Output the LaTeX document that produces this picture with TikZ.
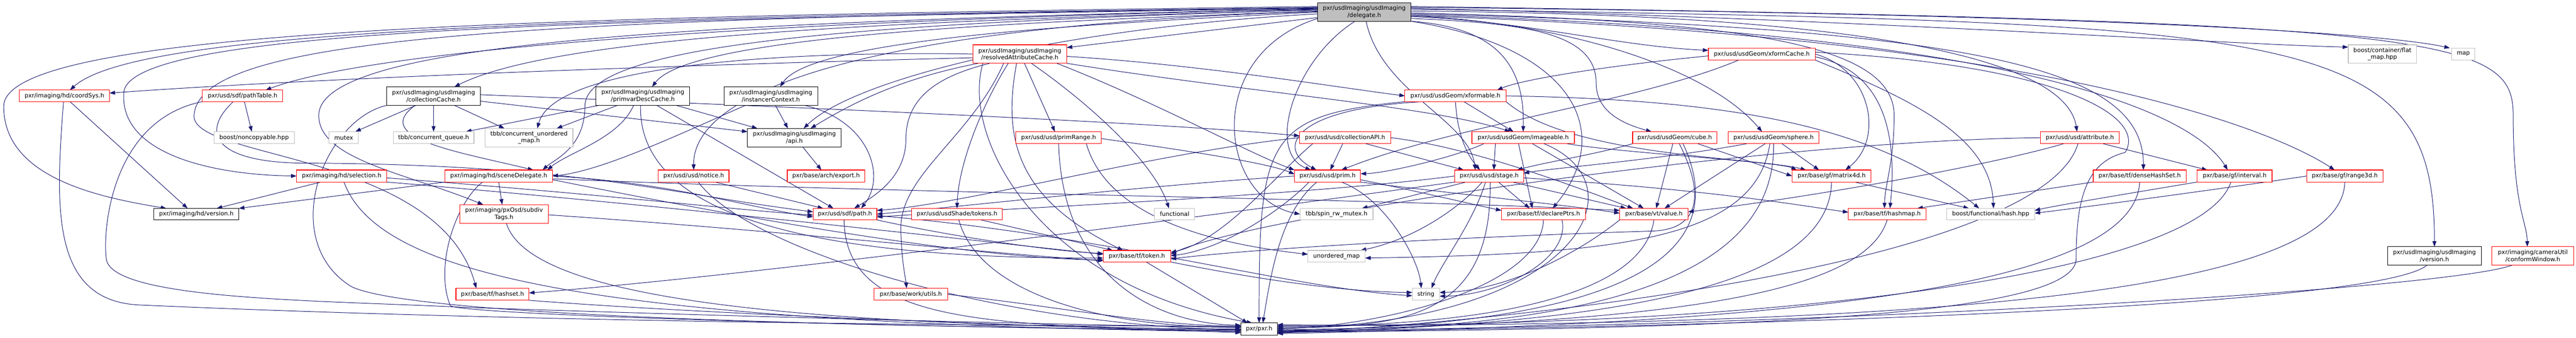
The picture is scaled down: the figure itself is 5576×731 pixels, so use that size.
\documentclass[tikz,border=0pt]{standalone}
\usepackage{fontspec}
\newfontfamily\djv{DejaVu Sans}
\usetikzlibrary{arrows.meta,backgrounds}
\definecolor{edgeblue}{HTML}{191970}
\definecolor{boxgrey}{HTML}{BFBFBF}
\definecolor{boxred}{HTML}{FF0000}
\tikzset{
 bxbase/.style={draw, rectangle, inner sep=0pt, outer sep=0pt, fill=white, line width=1.3pt, align=center, font=\djv\fontsize{12.8}{15}\selectfont},
 rbox/.style={bxbase, draw=boxred},
 kbox/.style={bxbase, draw=black},
 gbox/.style={bxbase, draw=boxgrey},
 dbox/.style={bxbase, draw=black, fill=boxgrey},
 ln/.style={draw=edgeblue, line width=1.1pt, -{Triangle[length=12pt,width=8.5pt]}},
}
\newcommand\bx[7]{\node[#1,minimum width={(#4-#3)*1pt},minimum height={(#6-#5)*1pt}] (#2) at ({(#3+#4)/2},{(#5+#6)/2}) {#7};}
\begin{document}
\begin{tikzpicture}[x=1pt,y=-1pt]
\useasboundingbox (0,0) rectangle (5576,731);
% ---- nodes ----
\bx{dbox}{dl}{2852}{3054}{6}{46}{pxr/usdImaging/usdImaging\\/delegate.h}
\bx{rbox}{rac}{2106}{2309}{97}{137}{pxr/usdImaging/usdImaging\\/resolvedAttributeCache.h}
\bx{rbox}{xfc}{3698}{3929}{104}{130}{pxr/usd/usdGeom/xformCache.h}
\bx{gbox}{fmap}{5083}{5231}{97}{137}{boost/container/flat\\\_map.hpp}
\bx{gbox}{smap}{5307}{5357}{104}{130}{map}
\bx{rbox}{csys}{42}{237}{195}{220}{pxr/imaging/hd/coordSys.h}
\bx{rbox}{ptab}{438}{612}{195}{220}{pxr/usd/sdf/pathTable.h}
\bx{kbox}{ccache}{837}{1040}{188}{228}{pxr/usdImaging/usdImaging\\/collectionCache.h}
\bx{kbox}{pdc}{1290}{1493}{188}{228}{pxr/usdImaging/usdImaging\\/primvarDescCache.h}
\bx{kbox}{ictx}{1567}{1770}{188}{228}{pxr/usdImaging/usdImaging\\/instancerContext.h}
\bx{rbox}{xfm}{3041}{3260}{195}{220}{pxr/usd/usdGeom/xformable.h}
\bx{gbox}{ncp}{463}{637}{285}{311}{boost/noncopyable.hpp}
\bx{gbox}{mutex}{712}{776}{285}{311}{mutex}
\bx{gbox}{cq}{851}{1026}{285}{311}{tbb/concurrent\_queue.h}
\bx{gbox}{cum}{1050}{1240}{278}{318}{tbb/concurrent\_unordered\\\_map.h}
\bx{kbox}{api}{1618}{1821}{278}{318}{pxr/usdImaging/usdImaging\\/api.h}
\bx{rbox}{prange}{2199}{2384}{285}{311}{pxr/usd/usd/primRange.h}
\bx{rbox}{capi}{2813}{3010}{285}{311}{pxr/usd/usd/collectionAPI.h}
\bx{rbox}{img}{3186}{3408}{285}{311}{pxr/usd/usdGeom/imageable.h}
\bx{rbox}{cube}{3534}{3716}{285}{311}{pxr/usd/usdGeom/cube.h}
\bx{rbox}{sphere}{3741}{3937}{285}{311}{pxr/usd/usdGeom/sphere.h}
\bx{rbox}{attr}{4417}{4587}{285}{311}{pxr/usd/usd/attribute.h}
\bx{rbox}{sel}{642}{837}{368}{394}{pxr/imaging/hd/selection.h}
\bx{rbox}{sdel}{963}{1196}{368}{394}{pxr/imaging/hd/sceneDelegate.h}
\bx{rbox}{notice}{1425}{1578}{368}{394}{pxr/usd/usd/notice.h}
\bx{rbox}{export}{1704}{1872}{368}{394}{pxr/base/arch/export.h}
\bx{rbox}{prim}{2802}{2945}{368}{394}{pxr/usd/usd/prim.h}
\bx{rbox}{stage}{3149}{3298}{368}{394}{pxr/usd/usd/stage.h}
\bx{rbox}{m4d}{3879}{4050}{368}{394}{pxr/base/gf/matrix4d.h}
\bx{rbox}{dhs}{4531}{4732}{368}{394}{pxr/base/tf/denseHashSet.h}
\bx{rbox}{intv}{4756}{4918}{368}{394}{pxr/base/gf/interval.h}
\bx{rbox}{r3d}{4993}{5158}{368}{394}{pxr/base/gf/range3d.h}
\bx{kbox}{hdver}{333}{517}{451}{476}{pxr/imaging/hd/version.h}
\bx{rbox}{subdiv}{995}{1187}{443}{483}{pxr/imaging/pxOsd/subdiv\\Tags.h}
\bx{rbox}{spath}{1760}{1898}{451}{476}{pxr/usd/sdf/path.h}
\bx{rbox}{shtok}{1973}{2170}{451}{476}{pxr/usd/usdShade/tokens.h}
\bx{gbox}{func}{2499}{2586}{451}{476}{functional}
\bx{gbox}{spin}{2814}{2972}{451}{476}{tbb/spin\_rw\_mutex.h}
\bx{rbox}{dptr}{3250}{3432}{451}{476}{pxr/base/tf/declarePtrs.h}
\bx{rbox}{value}{3506}{3654}{451}{476}{pxr/base/vt/value.h}
\bx{rbox}{hmap}{4001}{4169}{451}{476}{pxr/base/tf/hashmap.h}
\bx{gbox}{bhash}{4214}{4404}{451}{476}{boost/functional/hash.hpp}
\bx{rbox}{token}{2388}{2534}{542}{567}{pxr/base/tf/token.h}
\bx{gbox}{umap}{2831}{2955}{542}{567}{unordered\_map}
\bx{kbox}{uiver}{5168}{5371}{534}{574}{pxr/usdImaging/usdImaging\\/version.h}
\bx{rbox}{cwin}{5394}{5571}{534}{574}{pxr/imaging/cameraUtil\\/conformWindow.h}
\bx{rbox}{hset}{987}{1145}{624}{650}{pxr/base/tf/hashset.h}
\bx{rbox}{wutils}{1892}{2051}{624}{650}{pxr/base/work/utils.h}
\bx{gbox}{sstr}{3057}{3116}{624}{650}{string}
\bx{kbox}{pxr}{2686}{2765}{699}{725}{pxr/pxr.h}
% ---- edges ----
\begin{scope}[on background layer]
\fill[white] (0,0) rectangle (5576,731);
% delegate, left fan
\draw[ln] ([yshift=10]dl.west) .. controls (1300,38) and (300,60) .. ([xshift=12]csys.north);
\draw[ln] ([yshift=12]dl.west) .. controls (1200,36) and (10,60) .. (8,230) .. controls (8,380) and (200,425) .. ([xshift=27]hdver.north west);
\draw[ln] ([yshift=6]dl.west) .. controls (1600,45) and (800,110) .. ([xshift=50]ptab.north);
\draw[ln] ([yshift=4]dl.west) .. controls (1900,45) and (1200,80) .. ([xshift=45]ccache.north);
\draw[ln] ([yshift=2]dl.west) .. controls (2300,45) and (1500,70) .. ([xshift=20]pdc.north);
\draw[ln] (dl.west) .. controls (2400,50) and (1760,80) .. ([xshift=20]ictx.north);
\draw[ln] ([yshift=-12]dl.west) -- ([yshift=14]rac.east);
\draw[ln] ([yshift=8]dl.west) .. controls (1300,42) and (280,60) .. (268,200) .. controls (258,330) and (450,378) .. (sel.west);
\draw[ln] ([yshift=5]dl.west) .. controls (1900,50) and (1266,90) .. (1266,230) .. controls (1266,320) and (1200,345) .. ([xshift=95]sdel.north);
\draw[ln] ([yshift=9]dl.west) .. controls (1100,40) and (430,80) .. (420,250) .. controls (415,345) and (950,330) .. ([xshift=-35]hset.north);
\draw[ln] ([yshift=7]dl.west) .. controls (1500,48) and (690,90) .. (690,250) .. controls (690,345) and (880,375) .. ([xshift=-45]subdiv.north);
\draw[ln] ([yshift=1]dl.west) .. controls (2000,50) and (1500,170) .. (notice.north);
\draw[ln] ([yshift=-4]dl.west) .. controls (2300,60) and (1850,170) .. ([xshift=20]api.north);
\draw[ln] ([yshift=-14]dl.west) .. controls (2600,120) and (2640,430) .. (spin.west);
% delegate, bottom
\draw[ln] ([xshift=-20]dl.south) .. controls (2800,130) and (2740,330) .. ([xshift=-36]prim.north);
\draw[ln] ([xshift=4]dl.south) .. controls (2990,200) and (3180,260) .. ([xshift=-30]stage.north);
\draw[ln] (dl.south east) .. controls (3250,60) and (3300,150) .. (img.north);
\draw[ln] (dl.south east) .. controls (3400,100) and (3500,280) .. ([xshift=20]dptr.north);
% delegate, right fan
\draw[ln] ([yshift=-10]dl.east) .. controls (3300,45) and (3500,100) .. ([yshift=8]xfc.west);
\draw[ln] ([yshift=-14]dl.east) .. controls (3300,50) and (3455,70) .. (3455,180) .. controls (3455,245) and (3520,270) .. ([xshift=-50]cube.north);
\draw[ln] ([yshift=-8]dl.east) .. controls (3400,50) and (3700,150) .. ([xshift=-25]sphere.north);
\draw[ln] ([yshift=2]dl.east) .. controls (4000,30) and (4470,120) .. ([xshift=-6]attr.north);
\draw[ln] ([yshift=-2]dl.east) .. controls (3800,45) and (4100,100) .. (4100,250) .. controls (4100,350) and (4080,400) .. ([xshift=-6]hmap.north);
\draw[ln] ([yshift=-4]dl.east) .. controls (4300,60) and (4640,150) .. ([xshift=8]dhs.north);
\draw[ln] ([yshift=-6]dl.east) .. controls (4400,70) and (4750,250) .. ([xshift=-15]intv.north);
\draw[ln] ([yshift=-8]dl.east) .. controls (4500,80) and (4950,300) .. ([xshift=-22]r3d.north);
\draw[ln] ([yshift=8]dl.east) .. controls (4000,40) and (4800,95) .. ([yshift=15]fmap.west);
\draw[ln] ([yshift=10]dl.east) .. controls (4500,30) and (5150,70) .. ([xshift=-4]smap.north west);
\draw[ln] ([yshift=6]dl.east) .. controls (5000,50) and (5270,60) .. (uiver.north);
\draw[ln] ([yshift=12]dl.east) .. controls (5300,45) and (5440,80) .. (5440,250) .. controls (5440,450) and (5470,480) .. ([xshift=-12]cwin.north);
% coordSys
\draw[ln] ([xshift=12]csys.south) -- ([xshift=-19]hdver.north);
\draw[ln] ([xshift=-2]csys.south) .. controls (120,450) and (110,650) .. (300,660) .. controls (1200,700) and (2300,706) .. ([yshift=6]pxr.west);
% pathTable
\draw[ln] ([xshift=4]ptab.south) -- ([xshift=-5]ncp.north);
\draw[ln] (ptab.south west) .. controls (240,260) and (222,500) .. (230,560) .. controls (240,650) and (700,650) .. (1000,665) .. controls (1800,692) and (2400,704) .. ([yshift=3]pxr.west);
\draw[ln] ([xshift=-20]ptab.south) .. controls (430,290) and (470,350) .. (650,353) .. controls (1250,355) and (1450,420) .. ([yshift=5]spath.west);
% collectionCache
\draw[ln] ([xshift=-38]ccache.south) -- ([xshift=25]mutex.north);
\draw[ln] (ccache.south) -- (cq.north);
\draw[ln] ([xshift=45]ccache.south) -- ([xshift=-53]cum.north);
\draw[ln] ([yshift=-11]ccache.east) -- ([yshift=13]api.west);
\draw[ln] ([yshift=3]ccache.east) .. controls (1800,235) and (2500,265) .. ([yshift=4]capi.west);
\draw[ln] ([xshift=-40]ccache.south) .. controls (800,300) and (1000,330) .. ([xshift=75]sdel.north);
\draw[ln] (ccache.south west) .. controls (700,260) and (600,520) .. (760,620) .. controls (900,690) and (2000,708) .. ([yshift=-3]pxr.west);
% primvarDescCache
\draw[ln] ([xshift=72]pdc.south) -- ([xshift=-80]api.north);
\draw[ln] ([xshift=-95]pdc.south) -- ([xshift=70]cq.north);
\draw[ln] ([xshift=-55]pdc.south) -- ([xshift=60]cum.north);
\draw[ln] ([xshift=30]pdc.south) -- ([xshift=-25]spath.north);
\draw[ln] ([xshift=-20]pdc.south) .. controls (1340,300) and (1230,330) .. ([xshift=105]sdel.north);
\draw[ln] ([xshift=-5]pdc.south) .. controls (1380,480) and (1800,560) .. ([yshift=-4]token.west);
% instancerContext
\draw[ln] ([xshift=10]ictx.south) -- ([xshift=-14]api.north);
\draw[ln] ([xshift=73]ictx.south) .. controls (1880,260) and (1920,380) .. ([xshift=35]spath.north);
\draw[ln] ([xshift=-55]ictx.south) .. controls (1450,300) and (1300,370) .. (sdel.east);
% resolvedAttributeCache
\draw[ln] ([yshift=-8]rac.west) .. controls (1500,140) and (700,168) .. ([yshift=6]csys.east);
\draw[ln] ([xshift=10]rac.south) -- ([xshift=-8]prange.north);
\draw[ln] ([xshift=-25]rac.south) .. controls (2130,220) and (2075,350) .. (shtok.north);
\draw[ln] ([xshift=25]rac.south) .. controls (2380,240) and (2500,360) .. ([xshift=-12]func.north);
\draw[ln] ([xshift=-35]rac.south) .. controls (2100,300) and (1945,380) .. (1950,500) .. controls (1952,570) and (1960,600) .. ([xshift=-9]wutils.north);
\draw[ln] ([xshift=-7]rac.south) .. controls (2170,300) and (2200,430) .. ([xshift=-30]token.north);
\draw[ln] ([xshift=-65]rac.south) .. controls (2050,160) and (1961,200) .. (1961,300) .. controls (1961,380) and (1900,420) .. ([xshift=20]spath.north);
\draw[ln] ([xshift=-90]rac.south) .. controls (1950,170) and (1850,220) .. ([xshift=35]api.north);
\draw[ln] (rac.west) .. controls (1700,110) and (1200,140) .. ([xshift=18]cum.north);
\draw[ln] ([yshift=-5]rac.east) .. controls (2600,140) and (2900,190) .. (xfm.west);
\draw[ln] (rac.south east) .. controls (2700,200) and (3100,230) .. ([xshift=-28]img.north);
\draw[ln] ([xshift=80]rac.south) .. controls (2500,220) and (2700,330) .. (prim.north west);
\draw[ln] ([xshift=-80]rac.south) .. controls (2080,300) and (2250,620) .. ([xshift=-15]pxr.north);
% xformCache
\draw[ln] ([yshift=-4]xfc.west) .. controls (3500,140) and (3300,170) .. ([xshift=90]xfm.north);
\draw[ln] ([xshift=-50]xfc.south) .. controls (3550,220) and (3150,270) .. ([xshift=30]prim.north);
\draw[ln] (xfc.east) .. controls (4050,150) and (4080,300) .. ([xshift=30]m4d.north);
\draw[ln] ([yshift=-6]xfc.east) .. controls (4060,150) and (4110,260) .. ([xshift=6]hmap.north);
\draw[ln] (xfc.south east) .. controls (4150,220) and (4310,300) .. ([xshift=6]bhash.north);
\draw[ln] ([yshift=4]xfc.east) .. controls (4450,140) and (4650,250) .. (4600,330) .. controls (4520,350) and (4494,420) .. (4494,560) .. controls (4494,690) and (3700,712) .. ([yshift=-7]pxr.east);
% xformable
\draw[ln] ([xshift=18]xfm.south) -- ([xshift=-21]img.north);
\draw[ln] (xfm.south) .. controls (3155,300) and (3180,340) .. ([xshift=-20]stage.north);
\draw[ln] ([xshift=-70]xfm.south) .. controls (2800,235) and (2760,320) .. ([xshift=-24]prim.north);
\draw[ln] (xfm.south west) .. controls (2740,250) and (2725,300) .. (pxr.north);
\draw[ln] (xfm.east) .. controls (3700,215) and (4050,260) .. ([xshift=-25]bhash.north);
\draw[ln] (xfm.south east) .. controls (3400,340) and (3800,340) .. ([xshift=-55]m4d.north);
% imageable
\draw[ln] ([xshift=-60]img.south) -- ([xshift=10]stage.north);
\draw[ln] ([xshift=-85]img.south) .. controls (3150,340) and (3000,375) .. ([yshift=5]prim.east);
\draw[ln] ([xshift=-10]img.south) -- ([xshift=-24]dptr.north);
\draw[ln] ([xshift=20]img.south) -- ([xshift=-22]value.north);
\draw[ln] ([xshift=95]img.south) .. controls (3500,330) and (3850,350) .. ([xshift=-75]m4d.north);
\draw[ln] ([xshift=45]img.south) .. controls (3560,400) and (3420,700) .. ([yshift=1]pxr.east);
% cube
\draw[ln] ([xshift=-4]cube.south) -- ([xshift=5]value.north);
\draw[ln] (cube.south west) .. controls (3450,335) and (3350,350) .. ([xshift=60]stage.north);
\draw[ln] ([xshift=50]cube.south) -- (m4d.west);
\draw[ln] ([xshift=18]cube.south) .. controls (3760,560) and (3500,706) .. ([yshift=-3]pxr.east);
\draw[ln] ([xshift=10]cube.south) .. controls (3690,420) and (3680,495) .. (3580,500) .. controls (3100,515) and (2700,540) .. ([yshift=-6]token.east);
% sphere
\draw[ln] ([xshift=-18]sphere.south) -- ([xshift=23]value.north);
\draw[ln] ([xshift=-58]sphere.south) .. controls (3600,345) and (3350,365) .. ([yshift=6]stage.east);
\draw[ln] ([xshift=18]sphere.south) -- ([xshift=-27]m4d.north);
\draw[ln] (sphere.south) .. controls (3845,620) and (3400,712) .. ([yshift=-5]pxr.east);
\draw[ln] ([xshift=-8]sphere.south) .. controls (3800,520) and (3500,550) .. ([yshift=-4]umap.east);
% attribute
\draw[ln] ([xshift=50]attr.south) -- ([xshift=-59]intv.north);
\draw[ln] ([xshift=-35]attr.south) .. controls (4300,360) and (3900,430) .. ([yshift=5]value.east);
\draw[ln] (attr.west) .. controls (3800,305) and (2700,470) .. ([yshift=4]token.east);
\draw[ln] ([xshift=-4]attr.south) .. controls (4420,570) and (3300,695) .. ([yshift=-9]pxr.east);
% selection
\draw[ln] ([xshift=-45]sel.south) -- ([xshift=44]hdver.north);
\draw[ln] ([xshift=5]sel.south) .. controls (820,600) and (1300,700) .. ([yshift=-6]pxr.west);
\draw[ln] ([yshift=-4]sel.east) .. controls (1300,420) and (1600,455) .. ([yshift=-2]spath.west);
\draw[ln] (sel.south east) .. controls (1500,450) and (2100,520) .. ([yshift=4]token.west);
% sceneDelegate
\draw[ln] (sdel.south) -- ([xshift=-4]subdiv.north);
\draw[ln] (sdel.south west) -- (hdver.north east);
\draw[ln] ([xshift=-35]sdel.south) .. controls (985,440) and (940,580) .. (975,662) .. controls (1010,680) and (1800,706) .. ([yshift=-4]pxr.west);
\draw[ln] (sdel.east) .. controls (1450,395) and (1600,445) .. ([yshift=-6]spath.west);
\draw[ln] ([yshift=-8]sdel.east) .. controls (1600,470) and (2100,560) .. ([yshift=-8]token.west);
\draw[ln] ([yshift=-6]sdel.east) .. controls (2000,420) and (3000,430) .. ([yshift=8]value.west);
% subdivTags
\draw[ln] ([yshift=-2]subdiv.east) .. controls (1700,500) and (2100,545) .. ([yshift=-10]token.west);
\draw[ln] ([xshift=5]subdiv.south) .. controls (1150,660) and (1800,705) .. ([yshift=-1]pxr.west);
% notice
\draw[ln] ([xshift=46]notice.south) -- ([xshift=-47]spath.north);
\draw[ln] ([xshift=10]notice.south) .. controls (1620,540) and (2150,703) .. ([yshift=-2]pxr.west);
% api
\draw[ln] ([xshift=18]api.south) -- ([xshift=-10]export.north);
% path
\draw[ln] ([xshift=-2]spath.south) .. controls (1830,690) and (2100,710) .. (pxr.west);
\draw[ln] (spath.south east) .. controls (2100,520) and (2300,545) .. ([yshift=6]token.west);
\draw[ln] ([yshift=-3]spath.east) .. controls (2400,510) and (2800,625) .. ([yshift=-3]sstr.west);
% usdShade tokens
\draw[ln] ([xshift=52]shtok.south) -- ([xshift=-52]token.north);
\draw[ln] ([xshift=4]shtok.south) .. controls (2120,640) and (2400,710) .. ([yshift=4]pxr.west);
% primRange
\draw[ln] (prange.south) .. controls (2300,600) and (2500,700) .. ([yshift=8]pxr.west);
\draw[ln] ([yshift=-2]prange.east) .. controls (2600,330) and (2750,355) .. ([yshift=4]prim.west);
\draw[ln] ([xshift=60]prange.south) .. controls (2400,480) and (2650,530) .. ([yshift=4]umap.west);
% collectionAPI
\draw[ln] ([xshift=-5]capi.south) -- ([xshift=6]prim.north);
\draw[ln] ([xshift=45]capi.south) -- ([xshift=-55]stage.north);
\draw[ln] ([xshift=-70]capi.south) .. controls (2760,380) and (2650,520) .. ([yshift=8]token.east);
\draw[ln] (capi.west) .. controls (2500,330) and (2100,440) .. ([yshift=8]spath.east);
\draw[ln] (capi.east) .. controls (3200,320) and (3450,420) .. ([xshift=-45]value.north);
% prim
\draw[ln] ([xshift=-23]prim.south) .. controls (2770,460) and (2750,600) .. ([xshift=8]pxr.north);
\draw[ln] ([xshift=30]prim.south) .. controls (3000,430) and (3070,560) .. ([xshift=-10]sstr.north);
\draw[ln] (prim.west) .. controls (2500,400) and (2100,445) .. (spath.east);
\draw[ln] ([xshift=-40]prim.south) .. controls (2780,450) and (2650,540) .. ([yshift=1]token.east);
\draw[ln] ([yshift=-8]prim.east) .. controls (3050,410) and (3200,445) .. ([yshift=8]dptr.west);
\draw[ln] (prim.south east) .. controls (3200,425) and (3400,445) .. ([yshift=2]value.west);
% stage
\draw[ln] (stage.west) .. controls (2800,425) and (2200,450) .. ([yshift=-6]spath.east);
\draw[ln] ([xshift=-50]stage.south) -- ([xshift=-24]spin.north east);
\draw[ln] ([xshift=-15]stage.south) .. controls (3150,460) and (3050,520) .. ([xshift=-10]umap.north east);
\draw[ln] ([xshift=-8]stage.south) .. controls (3190,480) and (3120,570) .. ([xshift=12]sstr.north);
\draw[ln] ([xshift=2]stage.south) .. controls (3230,680) and (3050,710) .. ([yshift=3]pxr.east);
\draw[ln] ([xshift=20]stage.south) -- ([xshift=-30]dptr.north);
\draw[ln] ([xshift=50]stage.south) -- ([xshift=-60]value.north);
\draw[ln] ([yshift=-4]stage.east) .. controls (3700,410) and (3900,445) .. ([yshift=4]hmap.west);
\draw[ln] (stage.south west) .. controls (2600,470) and (1600,600) .. ([yshift=3]hset.east);
% matrix4d
\draw[ln] ([xshift=50]m4d.south) -- ([xshift=-47]bhash.north);
\draw[ln] (m4d.south) .. controls (3960,620) and (3500,702) .. ([yshift=-8]pxr.east);
% denseHashSet
\draw[ln] (dhs.south west) -- ([xshift=65]hmap.north);
\draw[ln] (dhs.south) .. controls (4620,620) and (3900,700) .. ([yshift=-10]pxr.east);
% interval
\draw[ln] (intv.south west) .. controls (4600,420) and (4450,445) .. ([yshift=8]bhash.east);
\draw[ln] ([xshift=-8]intv.south) .. controls (4760,600) and (3800,712) .. ([yshift=9]pxr.east);
% range3d
\draw[ln] (r3d.west) .. controls (4800,410) and (4500,450) .. ([yshift=2]bhash.east);
\draw[ln] (r3d.south) .. controls (5070,620) and (4300,705) .. ([yshift=7]pxr.east);
% leaves to pxr / string
\draw[ln] (dptr.south) .. controls (3335,620) and (3000,705) .. (pxr.east);
\draw[ln] (value.south) .. controls (3560,620) and (3300,705) .. ([yshift=5]pxr.east);
\draw[ln] (hmap.south) .. controls (4040,620) and (3700,700) .. ([yshift=-2]pxr.east);
\draw[ln] (value.south west) .. controls (3400,560) and (3250,630) .. ([yshift=4]sstr.east);
\draw[ln] ([xshift=40]dptr.south) .. controls (3400,560) and (3250,640) .. ([yshift=-4]sstr.east);
\draw[ln] ([xshift=20]token.south) -- ([xshift=-25]pxr.north);
\draw[ln] (token.south east) .. controls (2700,600) and (2900,632) .. ([yshift=4]sstr.west);
\draw[ln] ([xshift=-16]uiver.south) .. controls (5150,660) and (3900,706) .. ([yshift=-6]pxr.east);
\draw[ln] ([xshift=-45]cwin.south) .. controls (5300,625) and (4000,705) .. ([yshift=-4]pxr.east);
\draw[ln] (hset.south east) .. controls (1600,685) and (2300,706) .. ([yshift=-8]pxr.west);
\draw[ln] (wutils.east) .. controls (2300,665) and (2500,705) .. ([yshift=6]pxr.west);
\end{scope}
\end{tikzpicture}
\end{document}
